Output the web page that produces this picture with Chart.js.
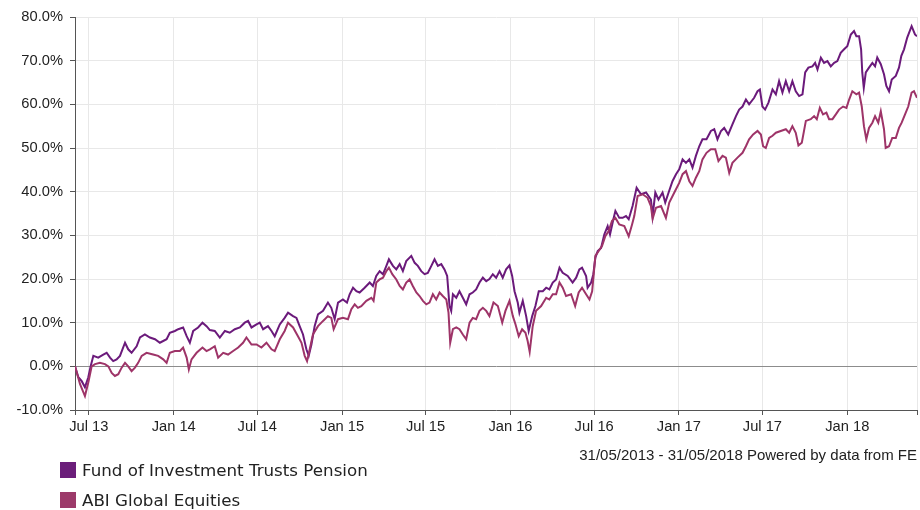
<!DOCTYPE html>
<html>
<head>
<meta charset="utf-8">
<script src="https://cdn.jsdelivr.net/npm/chart.js"></script>
<style>
  body { margin: 0; background: #fff; }
  #wrap { position: relative; width: 920px; height: 510px; }
  .leg { position: absolute; left: 60px; font: 16.7px "DejaVu Sans", Verdana, sans-serif; color: #222; line-height: 16px; }
  .leg span { display: inline-block; width: 16px; height: 16px; vertical-align: top; margin-right: 6px; }
  #note { position: absolute; right: 3px; top: 446px; font: 15px "Liberation Sans", Arial, sans-serif; color: #222; }
</style>
</head>
<body>
<div id="wrap">
  <canvas id="growthChart" width="920" height="510"></canvas>
  <div id="note">31/05/2013 - 31/05/2018 Powered by data from FE</div>
  <div class="leg" style="top:462px"><span style="background:#6b1e7a"></span>Fund of Investment Trusts Pension</div>
  <div class="leg" style="top:492px"><span style="background:#9c3a6a"></span>ABI Global Equities</div>
</div>
<script>
// x values are decimal years (31/05/2013 = 2013.414)
const fundT = [2013.414,2013.434,2013.454,2013.473,2013.493,2013.507,2013.523,2013.552,2013.582,2013.602,2013.622,2013.641,2013.661,2013.681,2013.711,2013.730,2013.750,2013.780,2013.800,2013.829,2013.859,2013.889,2013.918,2013.958,2013.977,2014.007,2014.027,2014.056,2014.077,2014.096,2014.116,2014.145,2014.171,2014.195,2014.215,2014.244,2014.274,2014.304,2014.333,2014.363,2014.393,2014.422,2014.442,2014.462,2014.492,2014.511,2014.531,2014.560,2014.581,2014.600,2014.630,2014.659,2014.679,2014.709,2014.729,2014.748,2014.768,2014.788,2014.802,2014.818,2014.837,2014.857,2014.887,2014.916,2014.936,2014.956,2014.976,2015.005,2015.029,2015.045,2015.065,2015.085,2015.104,2015.134,2015.164,2015.183,2015.203,2015.223,2015.243,2015.263,2015.278,2015.302,2015.322,2015.342,2015.361,2015.381,2015.411,2015.431,2015.450,2015.470,2015.490,2015.509,2015.530,2015.549,2015.569,2015.589,2015.608,2015.624,2015.638,2015.648,2015.658,2015.678,2015.697,2015.717,2015.737,2015.757,2015.776,2015.796,2015.816,2015.836,2015.856,2015.875,2015.895,2015.915,2015.935,2015.954,2015.974,2015.994,2016.010,2016.024,2016.043,2016.053,2016.073,2016.093,2016.108,2016.129,2016.148,2016.168,2016.192,2016.212,2016.231,2016.251,2016.271,2016.291,2016.310,2016.340,2016.369,2016.390,2016.409,2016.425,2016.449,2016.458,2016.479,2016.492,2016.504,2016.518,2016.538,2016.557,2016.577,2016.591,2016.611,2016.623,2016.646,2016.666,2016.686,2016.702,2016.725,2016.749,2016.775,2016.805,2016.834,2016.844,2016.860,2016.879,2016.903,2016.919,2016.939,2016.962,2016.983,2017.002,2017.022,2017.042,2017.062,2017.081,2017.101,2017.121,2017.140,2017.164,2017.190,2017.210,2017.229,2017.250,2017.269,2017.293,2017.318,2017.339,2017.358,2017.378,2017.398,2017.417,2017.447,2017.467,2017.481,2017.496,2017.512,2017.532,2017.556,2017.576,2017.595,2017.615,2017.635,2017.655,2017.674,2017.694,2017.714,2017.734,2017.750,2017.769,2017.793,2017.809,2017.823,2017.843,2017.862,2017.882,2017.902,2017.922,2017.941,2017.961,2017.981,2018.000,2018.021,2018.040,2018.054,2018.070,2018.082,2018.089,2018.098,2018.110,2018.129,2018.149,2018.165,2018.178,2018.199,2018.218,2018.232,2018.248,2018.264,2018.288,2018.307,2018.321,2018.337,2018.356,2018.382,2018.402,2018.414];
const fundV = [0.0,-2.5,-3.4,-4.8,-2.5,0.0,2.4,2.0,2.7,3.1,2.0,1.2,1.6,2.4,5.4,3.9,3.1,4.6,6.6,7.3,6.6,6.2,5.4,6.2,7.7,8.1,8.5,8.9,6.9,5.4,8.1,8.9,10.0,9.2,8.3,8.1,6.6,8.1,7.7,8.5,8.9,10.0,10.4,8.9,9.6,10.0,8.5,9.2,8.1,6.9,9.6,11.1,12.3,11.5,11.1,9.2,7.3,3.9,2.4,5.0,9.2,11.9,12.7,14.6,13.4,10.8,14.6,15.3,14.6,16.5,18.0,17.2,16.9,18.0,19.2,18.4,20.7,21.8,21.1,23.0,24.5,23.0,22.2,23.4,21.8,24.1,25.3,23.7,23.0,21.8,21.1,21.4,23.0,24.5,23.0,23.4,22.2,20.7,13.8,12.7,16.5,15.7,17.2,15.7,14.2,16.5,16.9,17.6,19.2,20.3,19.5,20.0,21.1,20.3,21.8,20.3,22.2,23.1,20.7,17.2,14.6,12.3,15.0,11.5,8.1,11.5,13.8,17.2,17.2,18.0,17.6,19.2,19.9,22.6,21.4,20.7,19.2,20.3,22.2,22.6,20.7,18.0,19.2,21.1,24.9,26.4,27.1,30.2,32.1,30.2,33.7,35.6,34.0,34.0,34.4,33.7,36.7,40.9,39.4,39.8,38.2,34.4,39.8,38.2,39.8,37.5,39.8,42.4,44.0,45.1,47.4,46.6,47.4,45.5,48.2,50.4,52.0,52.0,53.9,54.3,52.0,53.9,54.6,53.1,55.4,57.3,58.8,59.5,61.1,60.0,61.5,63.0,63.4,59.5,58.8,60.4,63.4,62.3,65.3,62.7,65.3,63.0,65.3,63.0,61.9,62.3,67.3,68.4,68.7,69.5,68.0,70.7,69.5,69.9,68.7,69.5,69.9,71.8,72.6,73.3,76.0,76.8,75.6,75.6,72.6,67.3,63.8,67.3,68.4,69.5,68.7,70.7,69.2,66.9,64.2,63.0,65.7,66.5,68.4,71.1,72.6,75.3,77.9,76.0,75.6];

const abiT = [2013.414,2013.444,2013.473,2013.493,2013.513,2013.533,2013.562,2013.592,2013.612,2013.632,2013.651,2013.671,2013.691,2013.711,2013.730,2013.750,2013.770,2013.789,2013.810,2013.839,2013.878,2013.908,2013.938,2013.958,2013.977,2014.007,2014.037,2014.056,2014.077,2014.090,2014.106,2014.136,2014.171,2014.195,2014.215,2014.244,2014.264,2014.294,2014.323,2014.353,2014.383,2014.412,2014.432,2014.462,2014.492,2014.521,2014.551,2014.581,2014.600,2014.630,2014.659,2014.679,2014.709,2014.738,2014.759,2014.778,2014.792,2014.808,2014.827,2014.857,2014.887,2014.916,2014.936,2014.950,2014.976,2015.005,2015.035,2015.055,2015.075,2015.094,2015.114,2015.144,2015.174,2015.187,2015.203,2015.223,2015.243,2015.263,2015.278,2015.298,2015.322,2015.342,2015.361,2015.381,2015.401,2015.420,2015.441,2015.460,2015.480,2015.500,2015.519,2015.539,2015.559,2015.579,2015.598,2015.619,2015.632,2015.642,2015.658,2015.678,2015.697,2015.717,2015.737,2015.757,2015.776,2015.796,2015.816,2015.836,2015.856,2015.875,2015.899,2015.925,2015.951,2015.970,2015.994,2016.014,2016.030,2016.049,2016.069,2016.089,2016.102,2016.114,2016.132,2016.152,2016.182,2016.212,2016.231,2016.251,2016.271,2016.291,2016.310,2016.330,2016.360,2016.384,2016.405,2016.425,2016.449,2016.469,2016.485,2016.504,2016.524,2016.544,2016.563,2016.583,2016.603,2016.623,2016.646,2016.676,2016.702,2016.722,2016.735,2016.755,2016.785,2016.814,2016.834,2016.844,2016.864,2016.894,2016.923,2016.943,2016.973,2017.002,2017.022,2017.042,2017.062,2017.081,2017.101,2017.121,2017.140,2017.164,2017.190,2017.216,2017.235,2017.259,2017.279,2017.299,2017.318,2017.348,2017.378,2017.398,2017.417,2017.441,2017.467,2017.487,2017.500,2017.516,2017.536,2017.556,2017.576,2017.605,2017.635,2017.655,2017.674,2017.694,2017.710,2017.730,2017.754,2017.783,2017.803,2017.819,2017.837,2017.856,2017.876,2017.892,2017.912,2017.932,2017.951,2017.975,2017.995,2018.011,2018.030,2018.054,2018.070,2018.086,2018.099,2018.113,2018.129,2018.149,2018.165,2018.184,2018.199,2018.218,2018.228,2018.248,2018.267,2018.288,2018.307,2018.323,2018.343,2018.362,2018.382,2018.396,2018.414];
const abiV = [0.0,-4.1,-6.8,-3.7,0.0,0.5,0.8,0.5,0.0,-1.5,-2.2,-1.8,-0.3,0.8,0.0,-1.1,-0.3,0.8,2.4,3.1,2.7,2.4,1.6,0.8,3.1,3.5,3.5,4.3,2.0,-0.7,1.6,3.1,4.3,3.5,3.9,4.6,2.0,3.1,2.7,3.5,4.3,5.4,6.6,5.0,5.0,4.3,5.4,3.9,3.5,6.2,8.1,10.0,8.9,6.9,5.4,2.4,1.2,3.9,7.3,9.2,10.4,11.5,11.1,8.5,10.8,11.1,10.8,13.1,14.2,13.4,13.8,15.0,15.7,15.0,19.2,19.9,20.3,21.8,22.6,21.1,19.9,18.4,17.6,19.2,19.9,18.4,16.9,16.1,15.0,14.2,14.6,16.5,15.3,16.9,16.1,15.3,12.3,5.4,8.5,8.9,8.5,7.3,6.2,10.0,11.1,10.8,12.7,13.4,12.7,11.5,14.6,13.8,10.0,12.7,15.0,11.5,9.6,6.9,8.5,7.7,5.8,3.3,9.2,12.7,13.8,15.7,15.3,16.5,16.5,19.2,18.0,16.1,16.5,13.8,16.9,18.0,16.5,15.3,17.2,25.3,26.4,27.6,29.8,31.0,33.3,34.0,32.5,32.1,29.8,32.5,34.4,39.0,39.4,38.6,36.7,33.8,36.3,36.7,34.0,37.5,39.8,42.0,44.0,44.7,42.4,41.3,43.2,44.7,47.4,48.9,49.7,49.7,47.0,48.2,47.8,44.3,46.6,47.8,48.9,50.4,52.0,53.1,53.9,53.1,50.4,50.0,52.3,52.8,53.5,53.9,54.3,53.5,55.0,53.5,50.6,51.2,56.2,56.6,57.3,56.6,59.2,57.7,58.1,56.6,56.6,57.7,58.8,59.5,59.2,61.1,63.0,62.3,62.7,59.5,55.0,52.0,54.6,55.8,57.3,55.8,58.4,54.3,50.0,50.4,52.3,52.3,54.6,55.8,57.7,59.5,62.7,63.0,61.5];

const tickVals = [2013.496, 2014.0, 2014.496, 2015.0, 2015.496, 2016.0, 2016.497, 2017.0, 2017.496, 2018.0];
const tickLabels = ["Jul 13", "Jan 14", "Jul 14", "Jan 15", "Jul 15", "Jan 16", "Jul 16", "Jan 17", "Jul 17", "Jan 18"];
const xMin = 2013.414, xMax = 2018.414;

const pts = (t, v) => t.map((x, i) => ({ x: x, y: v[i] }));
const tickFont = { family: "'Liberation Sans', Arial, sans-serif", size: 14.7 };

const ctx = document.getElementById("growthChart").getContext("2d");
new Chart(ctx, {
  type: "line",
  data: {
    datasets: [{
      label: "Fund of Investment Trusts Pension",
      data: pts(fundT, fundV),
      borderColor: "#6b1a7b",
      borderWidth: 2,
      pointRadius: 0,
      tension: 0,
      order: 1
    }, {
      label: "ABI Global Equities",
      data: pts(abiT, abiV),
      borderColor: "#9e3468",
      borderWidth: 2,
      pointRadius: 0,
      tension: 0,
      order: 0
    }]
  },
  options: {
    responsive: false,
    animation: false,
    layout: { padding: { left: 0, right: 2, top: 17, bottom: 70 } },
    plugins: { legend: { display: false }, tooltip: { enabled: false } },
    scales: {
      x: {
        type: "linear",
        min: xMin,
        max: xMax,
        afterBuildTicks: s => { s.ticks = [xMin].concat(tickVals, [xMax]).map(v => ({ value: v })); },
        afterFit: s => { s.height = 30; },
        ticks: {
          autoSkip: false,
          maxRotation: 0,
          padding: 3,
          color: "#222",
          font: tickFont,
          callback: (v, i) => (i === 0 || i > tickVals.length) ? "" : tickLabels[i - 1]
        },
        grid: { color: "#e8e8e8", tickColor: "#555", tickLength: 5 },
        border: { color: "#555" }
      },
      y: {
        min: -10,
        max: 80,
        afterFit: s => { s.width = 75; },
        ticks: {
          stepSize: 10,
          padding: 7,
          color: "#222",
          font: tickFont,
          callback: v => v.toFixed(1) + "%"
        },
        grid: {
          color: c => c.tick && c.tick.value === 0 ? "#8c8c8c" : "#e8e8e8",
          tickColor: "#555",
          tickLength: 5
        },
        border: { color: "#555" }
      }
    }
  }
});
</script>
</body>
</html>
